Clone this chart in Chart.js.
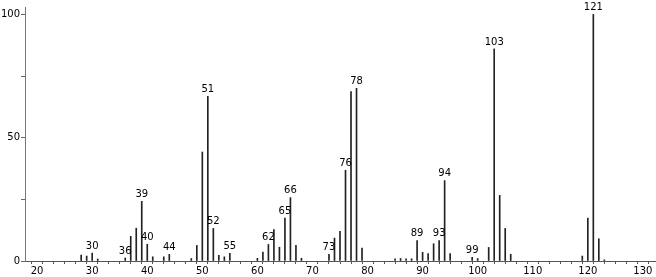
<!DOCTYPE HTML>
<html>
<head>
  <title>Mass spectrum</title>
  <script src="https://cdn.jsdelivr.net/npm/chart.js"></script>
  <style>
    html, body { margin: 0; padding: 0; background: #fff; }
    #wrap { width: 656px; height: 277px; }
  </style>
</head>
<body>
  <div id="wrap"><canvas id="myChart"></canvas></div>

  <script type="text/javascript">
    // m/z values and relative intensities
    var mz = [28, 29, 30, 31, 36, 37, 38, 39, 40, 41, 43, 44, 48, 49, 50, 51, 52, 53, 54, 55,
              60, 61, 62, 63, 64, 65, 66, 67, 68, 73, 74, 75, 76, 77, 78, 79,
              85, 86, 87, 88, 89, 90, 91, 92, 93, 94, 95, 99, 100,
              102, 103, 104, 105, 106, 119, 120, 121, 122, 123];
    var intensity = [2.4, 2, 3.2, 0.8, 1.2, 10, 13.3, 24.2, 6.8, 1.7, 1.7, 2.7, 1, 6.3, 44.2, 66.8, 13.2, 2.3, 1.7, 3.1,
                     1.1, 3.6, 6.7, 12.7, 5.6, 17.4, 25.7, 6.4, 1.1, 2.7, 9.3, 12, 36.8, 68.7, 70, 5.2,
                     0.9, 1, 0.9, 0.9, 8.3, 3.5, 3, 7, 8.3, 32.6, 3, 1.5, 1,
                     5.5, 86, 26.6, 13.2, 2.7, 2, 17.4, 100, 9, 0.5];
    // peaks that carry a text label
    var labelled = [30, 36, 39, 40, 44, 51, 52, 55, 62, 65, 66, 73, 76, 78, 89, 93, 94, 99, 103, 121];

    var xMin = 17.8, xMax = 132.2;
    var yTicks = [0, 25, 50, 75, 100];

    var points = mz.map(function (m, i) { return { x: m, y: intensity[i] }; });

    var peakLabelPlugin = {
      id: 'peakLabelPlugin',
      afterDatasetsDraw: function (chart) {
        var xs = chart.scales['x'];
        var ys = chart.scales['y'];
        var c = chart.ctx;
        c.save();
        c.font = '10px "DejaVu Sans"';
        c.fillStyle = '#000';
        c.textAlign = 'center';
        c.textBaseline = 'bottom';
        for (var i = 0; i < mz.length; i++) {
          if (labelled.indexOf(mz[i]) < 0) continue;
          var px = xs.getPixelForValue(mz[i]);
          var py = ys.getPixelForValue(intensity[i]);
          c.fillText(String(mz[i]), px, py - 2);
        }
        c.restore();
      }
    };

    var ctx = document.getElementById('myChart');
    var myChart = new Chart(ctx, {
      type: 'bar',
      data: {
        datasets: [{
          data: points,
          backgroundColor: '#222',
          barThickness: 1,
          borderWidth: 0
        }]
      },
      options: {
        responsive: true,
        maintainAspectRatio: false,
        animation: false,
        layout: { padding: { top: 3, right: 1, left: 0, bottom: 0 } },
        plugins: {
          legend: { display: false },
          tooltip: { enabled: false }
        },
        scales: {
          x: {
            type: 'linear',
            min: xMin,
            max: xMax,
            offset: false,
            afterBuildTicks: function (scale) {
              var t = [];
              for (var v = 18; v <= 132; v += 2) t.push({ value: v });
              scale.ticks = t;
            },
            afterFit: function (scale) { scale.height = 16; },
            ticks: {
              autoSkip: false,
              maxRotation: 0,
              padding: 1,
              color: '#000',
              font: { family: 'DejaVu Sans', size: 10 },
              callback: function (v) { return v % 10 === 0 ? String(v) : ''; }
            },
            grid: { drawOnChartArea: false, drawTicks: true, tickLength: 3, color: '#555' },
            border: { color: '#555', width: 1 }
          },
          y: {
            min: 0,
            max: 103,
            afterBuildTicks: function (scale) {
              scale.ticks = yTicks.map(function (v) { return { value: v }; });
            },
            afterFit: function (scale) { scale.width = 25; },
            ticks: {
              padding: 1,
              color: '#000',
              font: { family: 'DejaVu Sans', size: 10 },
              callback: function (v) { return v % 50 === 0 ? String(v) : ''; }
            },
            grid: { drawOnChartArea: false, drawTicks: true, tickLength: 4, color: '#666' },
            border: { color: '#777', width: 1 }
          }
        }
      },
      plugins: [peakLabelPlugin]
    });
  </script>
</body>
</html>
